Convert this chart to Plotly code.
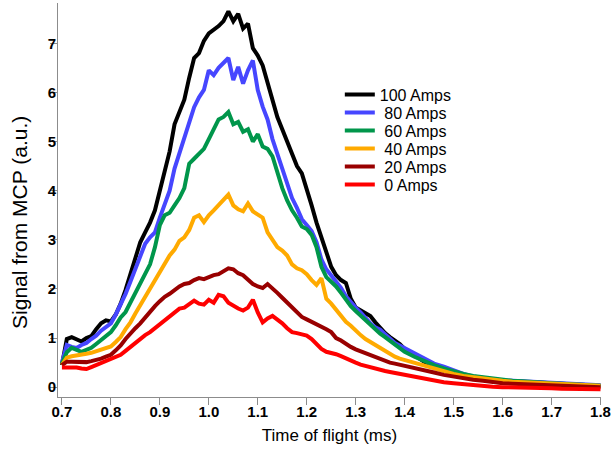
import plotly.graph_objects as go

# Time axis (ms): 0.70..1.40 step 0.01, then 1.42..1.80 step 0.02
time_ms = [0.70, 0.71, 0.72, 0.73, 0.74, 0.75, 0.76, 0.77, 0.78, 0.79,
           0.80, 0.81, 0.82, 0.83, 0.84, 0.85, 0.86, 0.87, 0.88, 0.89,
           0.90, 0.91, 0.92, 0.93, 0.94, 0.95, 0.96, 0.97, 0.98, 0.99,
           1.00, 1.01, 1.02, 1.03, 1.04, 1.05, 1.06, 1.07, 1.08, 1.09,
           1.10, 1.11, 1.12, 1.13, 1.14, 1.15, 1.16, 1.17, 1.18, 1.19,
           1.20, 1.21, 1.22, 1.23, 1.24, 1.25, 1.26, 1.27, 1.28, 1.29,
           1.30, 1.31, 1.32, 1.33, 1.34, 1.35, 1.36, 1.37, 1.38, 1.39,
           1.40, 1.42, 1.44, 1.46, 1.48, 1.50, 1.52, 1.54, 1.56, 1.58,
           1.60, 1.62, 1.64, 1.66, 1.68, 1.70, 1.72, 1.74, 1.76, 1.78, 1.80]

amps_100 = [0.45, 0.98, 1.02, 0.98, 0.93, 1.00, 1.04, 1.18, 1.30, 1.36,
            1.34, 1.48, 1.70, 1.98, 2.30, 2.60, 2.95, 3.15, 3.35, 3.60,
            4.00, 4.45, 4.80, 5.35, 5.60, 5.85, 6.30, 6.70, 6.80, 7.05,
            7.20, 7.27, 7.35, 7.45, 7.65, 7.45, 7.60, 7.30, 7.40, 6.90,
            6.75, 6.55, 6.20, 5.80, 5.50, 5.25, 5.00, 4.70, 4.50, 4.35,
            4.05, 3.70, 3.35, 3.05, 2.70, 2.45, 2.28, 2.18, 2.12, 1.80,
            1.62, 1.56, 1.52, 1.45, 1.32, 1.20, 1.10, 1.02, 0.95, 0.88,
            0.78, 0.65, 0.52, 0.43, 0.37, 0.31, 0.25, 0.20, 0.17, 0.14,
            0.13, 0.12, 0.12, 0.10, 0.09, 0.08, 0.07, 0.06, 0.05, 0.05, 0.03]

amps_80 = [0.50, 0.86, 0.82, 0.80, 0.86, 0.90, 0.98, 1.05, 1.15, 1.22,
           1.30, 1.48, 1.68, 1.90, 2.15, 2.40, 2.70, 2.92, 3.05, 3.15,
           3.45, 3.75, 4.00, 4.45, 4.75, 5.05, 5.40, 5.70, 5.90, 6.05,
           6.45, 6.35, 6.50, 6.60, 6.70, 6.25, 6.52, 6.18, 6.45, 6.65,
           6.05, 5.71, 5.45, 5.05, 4.75, 4.50, 4.20, 3.85, 3.65, 3.42,
           3.30, 3.18, 2.95, 2.60, 2.40, 2.28, 2.15, 2.02, 1.85, 1.72,
           1.62, 1.52, 1.40, 1.30, 1.22, 1.17, 1.08, 1.00, 0.90, 0.85,
           0.80, 0.70, 0.58, 0.48, 0.42, 0.34, 0.27, 0.22, 0.18, 0.16,
           0.14, 0.13, 0.12, 0.11, 0.10, 0.09, 0.08, 0.07, 0.06, 0.05, 0.04]

amps_60 = [0.48, 0.71, 0.80, 0.76, 0.72, 0.76, 0.80, 0.88, 0.96, 1.04,
           1.12, 1.26, 1.42, 1.53, 1.72, 1.95, 2.10, 2.30, 2.50, 2.85,
           3.30, 3.50, 3.55, 3.70, 3.85, 4.05, 4.55, 4.65, 4.75, 4.85,
           5.05, 5.25, 5.45, 5.50, 5.60, 5.35, 5.40, 5.20, 5.25, 5.00,
           5.15, 4.90, 4.85, 4.70, 4.35, 4.05, 3.80, 3.60, 3.45, 3.27,
           3.22, 3.10, 2.85, 2.45, 2.24, 2.15, 2.05, 1.92, 1.78, 1.65,
           1.55, 1.46, 1.35, 1.26, 1.18, 1.09, 1.02, 0.95, 0.87, 0.80,
           0.72, 0.62, 0.53, 0.45, 0.38, 0.32, 0.27, 0.23, 0.20, 0.17,
           0.15, 0.13, 0.12, 0.10, 0.09, 0.08, 0.07, 0.06, 0.05, 0.04, 0.03]

amps_40 = [0.45, 0.60, 0.63, 0.64, 0.66, 0.68, 0.70, 0.73, 0.77, 0.80,
           0.83, 0.92, 1.02, 1.18, 1.32, 1.50, 1.67, 1.82, 2.00, 2.15,
           2.35, 2.50, 2.68, 2.80, 2.98, 3.05, 3.20, 3.45, 3.50, 3.36,
           3.50, 3.60, 3.70, 3.82, 3.92, 3.70, 3.62, 3.58, 3.74, 3.58,
           3.52, 3.45, 3.15, 3.00, 2.85, 2.78, 2.68, 2.50, 2.42, 2.38,
           2.30, 2.18, 2.08, 2.22, 1.80, 1.70, 1.58, 1.45, 1.33, 1.25,
           1.15, 1.06, 0.98, 0.92, 0.85, 0.78, 0.72, 0.67, 0.62, 0.58,
           0.55, 0.50, 0.44, 0.39, 0.33, 0.27, 0.23, 0.20, 0.17, 0.15,
           0.13, 0.11, 0.10, 0.09, 0.08, 0.07, 0.06, 0.05, 0.04, 0.04, 0.03]

amps_20 = [0.45, 0.52, 0.52, 0.51, 0.52, 0.51, 0.53, 0.55, 0.58, 0.62,
           0.66, 0.75, 0.85, 0.98, 1.10, 1.20, 1.30, 1.42, 1.55, 1.65,
           1.75, 1.84, 1.90, 1.98, 2.05, 2.10, 2.12, 2.18, 2.22, 2.20,
           2.25, 2.28, 2.30, 2.35, 2.42, 2.40, 2.32, 2.28, 2.18, 2.10,
           2.05, 2.02, 2.10, 2.02, 1.92, 1.82, 1.72, 1.62, 1.52, 1.43,
           1.38, 1.33, 1.30, 1.24, 1.18, 1.12, 1.00, 0.95, 0.88, 0.82,
           0.77, 0.73, 0.69, 0.64, 0.60, 0.56, 0.53, 0.50, 0.48, 0.46,
           0.44, 0.40, 0.35, 0.30, 0.25, 0.21, 0.18, 0.15, 0.13, 0.10,
           0.08, 0.07, 0.06, 0.05, 0.04, 0.03, 0.03, 0.02, 0.01, 0.01, 0.00]

amps_0 = [0.40, 0.40, 0.41, 0.40, 0.38, 0.37, 0.41, 0.45, 0.48, 0.53,
          0.58, 0.62, 0.66, 0.74, 0.82, 0.92, 1.00, 1.06, 1.12, 1.20,
          1.27, 1.35, 1.42, 1.50, 1.60, 1.62, 1.68, 1.76, 1.70, 1.68,
          1.78, 1.72, 1.88, 1.85, 1.72, 1.65, 1.60, 1.56, 1.62, 1.78,
          1.52, 1.32, 1.40, 1.45, 1.38, 1.30, 1.20, 1.12, 1.10, 1.08,
          1.05, 0.98, 0.88, 0.78, 0.72, 0.70, 0.67, 0.63, 0.58, 0.53,
          0.50, 0.46, 0.43, 0.40, 0.37, 0.35, 0.33, 0.31, 0.29, 0.27,
          0.25, 0.21, 0.17, 0.13, 0.10, 0.08, 0.06, 0.04, 0.03, 0.01,
          0.00, 0.00, -0.01, -0.01, -0.02, -0.02, -0.03, -0.03, -0.03, -0.04, -0.04]

series_names = ["100 Amps", "\u00a080 Amps", "\u00a060 Amps", "\u00a040 Amps", "\u00a020 Amps", "\u00a00 Amps"]
series_values = [amps_100, amps_80, amps_60, amps_40, amps_20, amps_0]
series_colors = ["#000000", "#4646FF", "#00964B", "#FFAA00", "#990000", "#FF0000"]
legend_ids = ["legend", "legend2", "legend3", "legend4", "legend5", "legend6"]

axis_font = "Arial, Liberation Sans, sans-serif"

fig = go.Figure()
for name, vals, col, lg in zip(series_names, series_values, series_colors, legend_ids):
    fig.add_trace(go.Scatter(x=time_ms, y=vals, mode="lines", name=name,
                             line=dict(color=col, width=4), legend=lg))

# one legend box per entry so the rows can be spaced like the reference
legend_layout = {}
for i, lg in enumerate(legend_ids):
    legend_layout[lg] = dict(x=0.519, y=0.8106 - i * 0.0457, xanchor="left", yanchor="top",
                             bgcolor="rgba(0,0,0,0)", borderwidth=0,
                             font=dict(family=axis_font, size=16, color="black"),
                             itemwidth=30)

fig.update_layout(
    width=612, height=455,
    margin=dict(l=58, r=11, t=3, b=58, autoexpand=False),
    paper_bgcolor="white", plot_bgcolor="white",
    showlegend=True,
    font=dict(family=axis_font, color="black"),
    **legend_layout,
)
fig.update_xaxes(range=[0.692, 1.801], tickvals=[0.7, 0.8, 0.9, 1.0, 1.1, 1.2, 1.3, 1.4, 1.5, 1.6, 1.7, 1.8],
                 ticktext=["0.7", "0.8", "0.9", "1.0", "1.1", "1.2", "1.3", "1.4", "1.5", "1.6", "1.7", "1.8"],
                 showline=True, linecolor="#8c8c8c", linewidth=1, ticks="outside", ticklen=7,
                 tickcolor="#8c8c8c", showgrid=False, zeroline=False, automargin=False,
                 ticklabelstandoff=-6,
                 tickfont=dict(family=axis_font, size=15, weight="bold", color="black"),
                 title=dict(text="Time of flight (ms)", font=dict(family=axis_font, size=17, color="black"), standoff=10))
fig.update_yaxes(range=[-0.2, 7.82], tickvals=[0, 1, 2, 3, 4, 5, 6, 7],
                 showline=True, linecolor="#8c8c8c", linewidth=1, ticks="outside", ticklen=7,
                 tickcolor="#8c8c8c", showgrid=False, zeroline=False, automargin=False,
                 ticklabelstandoff=-9,
                 tickfont=dict(family=axis_font, size=15, weight="bold", color="black"))

# y-axis title placed like the reference (slightly below the plot centre)
fig.add_annotation(text="Signal from MCP (a.u.)", textangle=-90, showarrow=False,
                   xref="paper", yref="paper", x=-0.0701, y=0.4442,
                   xanchor="center", yanchor="middle",
                   font=dict(family=axis_font, size=21, color="black"))

fig.write_html("out.html", config={"displayModeBar": False},
               post_script="document.body.style.margin='0';document.body.style.padding='0';")
